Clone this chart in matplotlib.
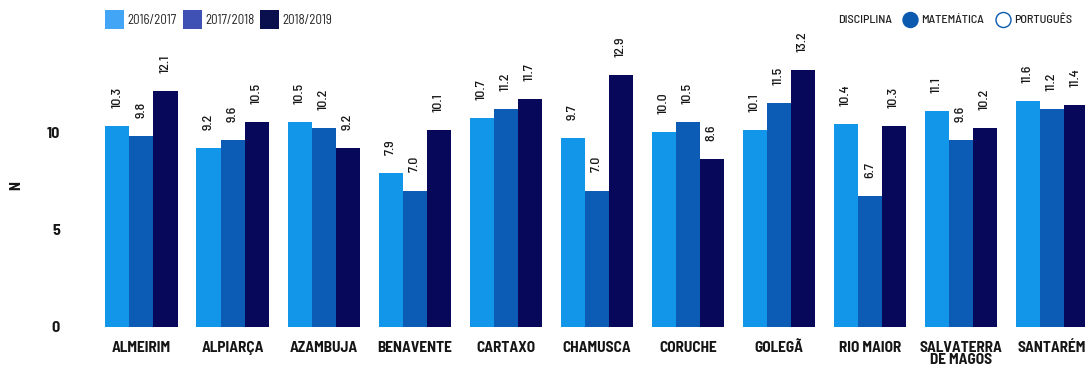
import matplotlib
matplotlib.use("Agg")
import matplotlib.pyplot as plt
from matplotlib.patches import Rectangle, Circle
import numpy as np

# Average grades by municipality and school year
municipalities = ["ALMEIRIM", "ALPIARÇA", "AZAMBUJA", "BENAVENTE", "CARTAXO",
                  "CHAMUSCA", "CORUCHE", "GOLEGÃ", "RIO MAIOR",
                  "SALVATERRA\nDE MAGOS", "SANTARÉM"]
years = ["2016/2017", "2017/2018", "2018/2019"]
y2016_2017 = [10.3, 9.2, 10.5, 7.9, 10.7, 9.7, 10.0, 10.1, 10.4, 11.1, 11.6]
y2017_2018 = [9.8, 9.6, 10.2, 7.0, 11.2, 7.0, 10.5, 11.5, 6.7, 9.6, 11.2]
y2018_2019 = [12.1, 10.5, 9.2, 10.1, 11.7, 12.9, 8.6, 13.2, 10.3, 10.2, 11.4]
y_ticks = [0, 5, 10]

bar_colors = ["#1296EA", "#0C5BB4", "#08085A"]
legend_colors = ["#42A5F5", "#3F51B5", "#0A104E"]
subject_color = "#0B5AB0"
text_color = "#161616"

FONT = ["Barlow Semi Condensed", "Roboto Condensed", "DejaVu Sans"]
plt.rcParams["font.family"] = FONT

W, H = 1085, 367
fig = plt.figure(figsize=(W / 100, H / 100), dpi=100)

left_px, right_px, top_px, bottom_px = 78, 1085, 40, 330
ax = fig.add_axes([left_px / W, 1 - bottom_px / H,
                   (right_px - left_px) / W, (bottom_px - top_px) / H])

x = np.arange(len(municipalities))
width = 0.264
series = [y2016_2017, y2017_2018, y2018_2019]
for i, vals in enumerate(series):
    pos = x + (i - 1) * width
    ax.bar(pos, vals, width=width, color=bar_colors[i], linewidth=0)
    for xp, v in zip(pos, vals):
        ax.annotate(f"{v:.1f}", (xp, v), xytext=(0, 13), textcoords="offset points",
                    rotation=90, ha="center", va="bottom", fontsize=10,
                    fontweight="medium", color=text_color, clip_on=False)

ax.set_xlim(-0.697, 10.362)
ax.set_ylim(-0.154, 14.72)
ax.set_xticks(x)
ax.set_xticklabels(municipalities, fontsize=11, fontweight="bold",
                   linespacing=0.78, color=text_color)
ax.set_yticks(y_ticks)
ax.set_yticklabels([str(t) for t in y_ticks], fontsize=11.5, fontweight="bold",
                   color=text_color)
ax.tick_params(axis="x", length=0, pad=8)
ax.tick_params(axis="y", length=0, pad=13)
for s in ax.spines.values():
    s.set_visible(False)
ax.set_ylabel("N", fontsize=11, fontweight="bold", color=text_color)
ax.yaxis.set_label_coords((23 - left_px) / (right_px - left_px), 0.5)


def fig_xy(xp, yp):
    return xp / W, 1 - yp / H


# Year legend (top left)
leg_x = [105, 183, 260]
for xs, lab, col in zip(leg_x, years, legend_colors):
    fx, fy = fig_xy(xs, 29)
    fig.patches.append(Rectangle((fx, fy), 19 / W, 19 / H, transform=fig.transFigure,
                                 facecolor=col, edgecolor="none"))
    tx, ty = fig_xy(xs + 22, 20)
    fig.text(tx, ty, lab, fontsize=9.3, va="center", ha="left", color="#222222")

# Subject legend (top right)
overlay = fig.add_axes([0, 0, 1, 1], facecolor="none")
overlay.set_xlim(0, W)
overlay.set_ylim(H, 0)
overlay.axis("off")
overlay.add_patch(Circle((910.5, 20), 7.5, facecolor=subject_color,
                         edgecolor=subject_color, linewidth=1))
overlay.add_patch(Circle((1003.5, 20), 7.5, facecolor="white",
                         edgecolor=subject_color, linewidth=1))
for xs, lab in [(838, "DISCIPLINA"), (921, "MATEMÁTICA"), (1014, "PORTUGUÊS")]:
    overlay.text(xs, 20, lab, fontsize=8.8, fontweight="medium", va="center",
                 ha="left", color="#222222")

fig.savefig("out.png", dpi=100)
